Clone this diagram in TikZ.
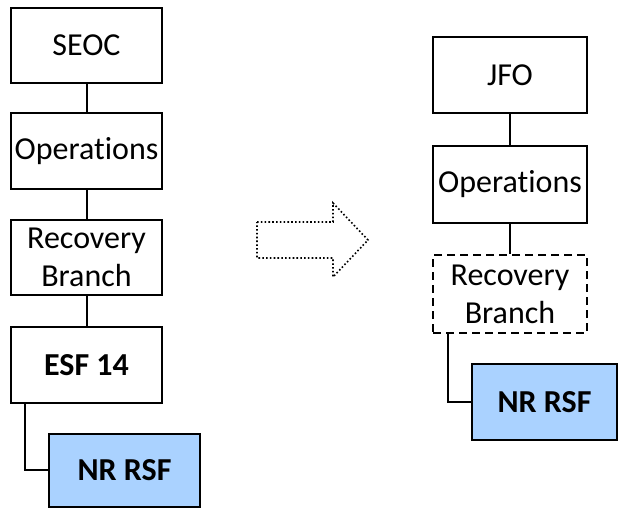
\documentclass[tikz,border=0pt]{standalone}
\usepackage{fontspec}
\setmainfont[Ligatures=NoCommon,RawFeature=-liga]{Carlito}
\definecolor{nrblue}{RGB}{170,210,255}
\begin{document}
\begin{tikzpicture}[x=1pt,y=-1pt,
  box/.style={draw=black,line width=2pt,minimum width=151pt,minimum height=75pt,inner sep=0pt,
    align=center,font=\fontsize{32}{38}\selectfont},
  bluebox/.style={box,fill=nrblue,font=\fontsize{32}{38}\selectfont\bfseries},
  conn/.style={draw=black,line width=2pt}]
\useasboundingbox (0,0) rectangle (620,507);
% left column
\node[box] (seoc) at (86.5,45) {SEOC};
\node[box,minimum height=76pt] (ops1) at (86.5,151) {Operations};
\node[box] (rb1) at (86.5,257.5) {Recovery\\Branch};
\node[box,minimum height=76pt,font=\fontsize{32}{38}\selectfont\bfseries] (esf) at (86.5,365) {ESF 14};
\node[bluebox,minimum height=73pt] (nr1) at (124.5,470) {NR RSF};
\draw[conn] (seoc) -- (ops1);
\draw[conn] (ops1) -- (rb1);
\draw[conn] (rb1) -- (esf);
\draw[conn] (esf.south west) ++(15,0) coordinate (e1) -- (e1 |- nr1.west) -- (nr1.west);
% arrow
\draw[line width=1.6pt,dash pattern=on 1.6pt off 2.2pt]
  (257,222) coordinate (a1) -- (333,222) -- (333,203) -- (368,240) -- (333,277) -- (333,258) -- (257,258) -- cycle;
% right column
\node[box,minimum width=154pt,minimum height=76pt] (jfo) at (510,75) {JFO};
\node[box,minimum width=154pt,minimum height=77pt] (ops2) at (510,184.5) {Operations};
\node[box,minimum width=154pt,minimum height=78pt,dashed,dash pattern=on 8pt off 5pt] (rb2) at (510,294) {Recovery\\Branch};
\node[bluebox,minimum width=145pt,minimum height=76pt] (nr2) at (544.5,402) {NR RSF};
\draw[conn] (jfo) -- (ops2);
\draw[conn] (ops2) -- (rb2);
\draw[conn] (rb2.south west) ++(16,0) coordinate (e2) -- (e2 |- nr2.west) -- (nr2.west);
\end{tikzpicture}
\end{document}
